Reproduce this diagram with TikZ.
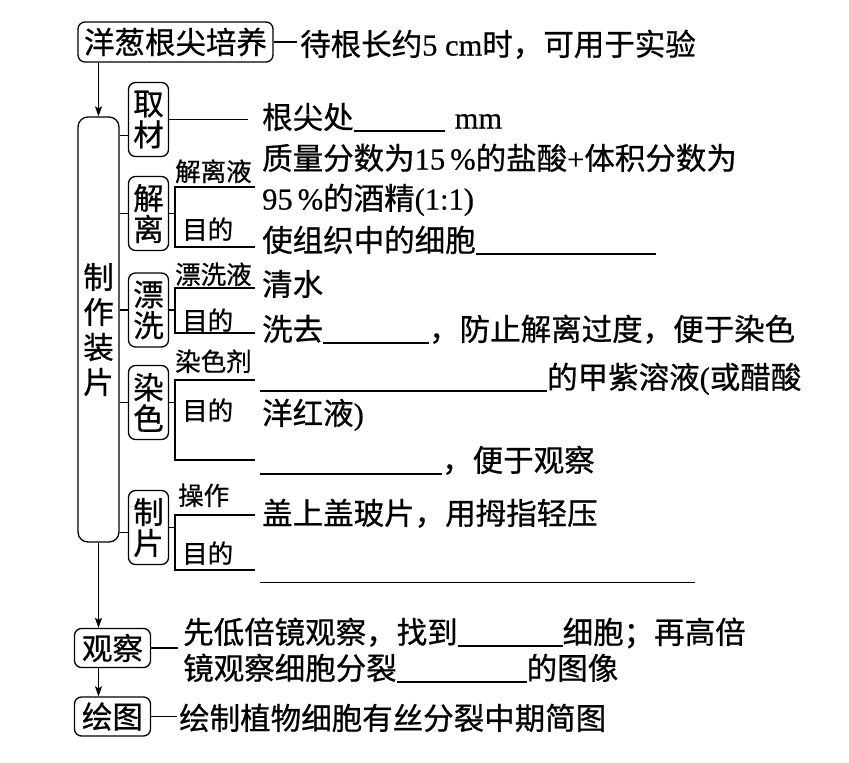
\documentclass[tikz,border=0pt]{standalone}
\usepackage{fontspec}
\setmainfont{Liberation Serif}[FakeBold=0.5]
\newfontfamily\cjk{Noto Sans CJK SC}[FakeBold=0.7]
\usetikzlibrary{arrows.meta, positioning, calc}
\newcommand{\lat}[1]{{\rmfamily #1}}
\newcommand{\blank}[1]{\rule[-3pt]{#1}{1.1pt}}

\begin{document}
\begin{tikzpicture}[x=1pt, y=-1pt,
  box/.style={draw, line width=1.3pt, rounded corners=7pt, inner sep=2pt, align=center, font=\cjk\fontsize{30.5}{31}\selectfont},
  hbox/.style={box, minimum width=76pt, minimum height=39pt},
  vbox/.style={box, minimum width=40pt, minimum height=74pt},
  txt/.style={anchor=base west, inner sep=0pt, font=\cjk\fontsize{30.5}{35}\selectfont},
  lab/.style={anchor=base west, inner sep=0pt, font=\cjk\fontsize{25.5}{30}\selectfont},
  ln/.style={line width=1.3pt},
  arr/.style={ln, -{Stealth[length=10pt, width=7pt, inset=2pt]}}
]
\useasboundingbox (0,0) rectangle (849,763);

\node[box, minimum width=195pt, minimum height=40pt] (culture) at (175.5,42) {洋葱根尖培养};
\node[txt] (culturenote) at (300,55.5) {待根长约\lat{5 cm}时，可用于实验};
\draw[ln, shorten >=3pt] (culture.east) -- (culture.east -| culturenote.west);

\node[box, minimum width=41pt, minimum height=425pt, rounded corners=10pt, font=\cjk\fontsize{30.5}{35}\selectfont] (make) at (98.5,329.5) {制\\作\\装\\片};
\draw[arr] (culture.south -| make.north) -- (make.north);

\node[vbox] (take) at (148.5,119.5) {取\\材};
\node[vbox] (dissoc) at (148.5,213.5) {解\\离};
\node[vbox] (rinse) at (148.5,310) {漂\\洗};
\node[vbox] (stain) at (148.5,402.5) {染\\色};
\node[vbox] (mount) at (148.5,527.5) {制\\片};

\draw[ln] ([yshift=-16pt]take.west) -- ([yshift=-16pt]take.west -| make.east);
\draw[ln] (dissoc.west) -- (dissoc.west -| make.east);
\draw[ln] (rinse.west) -- (rinse.west -| make.east);
\draw[ln] (stain.west) -- (stain.west -| make.east);
\draw[ln] ([yshift=-5pt]mount.west) -- ([yshift=-5pt]mount.west -| make.east);

% take material
\node[txt] (takenote) at (262,128.5) {根尖处\blank{91pt}\hspace{10pt}\lat{mm}};
\draw[ln, shorten >=14pt] (take.east) -- (take.east -| takenote.west);

% dissociation
\coordinate (dissocT) at (175,187);
\coordinate (dissocB) at (175,247);
\draw[ln] (dissoc.east) -- (dissoc.east -| dissocT);
\draw[ln] ([xshift=80pt]dissocT) -- (dissocT) -- (dissocB) -- ([xshift=80pt]dissocB);
\node[lab] (dissocliq) at (175,181) {解离液};
\node[lab] (dissocaim) at (182,239) {目的};
\node[txt] (dissocnote1) at (262,169.5) {质量分数为\lat{15\,\%}的盐酸\lat{+}体积分数为};
\node[txt] (dissocnote2) at (262,209.5) {\lat{95\,\%}的酒精\lat{(1:1)}};
\node[txt] (dissocnote3) at (262,251.5) {使组织中的细胞\blank{180pt}};

% rinsing
\coordinate (rinseT) at (175,288);
\coordinate (rinseB) at (175,333);
\draw[ln] (rinse.east) -- (rinse.east -| rinseT);
\draw[ln] ([xshift=80pt]rinseT) -- (rinseT) -- (rinseB) -- ([xshift=80pt]rinseB);
\node[lab] (rinseliq) at (175,284) {漂洗液};
\node[lab] (rinseaim) at (182,330) {目的};
\node[txt] (rinsenote1) at (262,295.5) {清水};
\node[txt] (rinsenote2) at (262,340.5) {洗去\blank{106pt}，防止解离过度，便于染色};

% staining
\coordinate (stainT) at (175,380);
\coordinate (stainB) at (175,460);
\draw[ln] (stain.east) -- (stain.east -| stainT);
\draw[ln] ([xshift=80pt]stainT) -- (stainT) -- (stainB) -- ([xshift=80pt]stainB);
\node[lab] (staindye) at (175,371) {染色剂};
\node[lab] (stainaim) at (182,420) {目的};
\node[txt] (stainnote1) at (260,388.5) {\blank{287pt}的甲紫溶液\lat{(}或醋酸};
\node[txt] (stainnote2) at (262,424.5) {洋红液\lat{)}};
\node[txt] (stainnote3) at (260,471.5) {\blank{182pt}，便于观察};

% mounting
\coordinate (mountT) at (175,515);
\coordinate (mountB) at (175,570);
\draw[ln] (mount.east) -- (mount.east -| mountT);
\draw[ln] ([xshift=80pt]mountT) -- (mountT) -- (mountB) -- ([xshift=80pt]mountB);
\node[lab] (mountop) at (178,505) {操作};
\node[lab] (mountaim) at (182,563) {目的};
\node[txt] (mountnote1) at (262,524.5) {盖上盖玻片，用拇指轻压};
\node[txt] (mountnote2) at (260,580) {\blank{435pt}};

% observe and sketch
\node[hbox] (observe) at (112.5,648) {观察};
\node[hbox] (sketch) at (112.5,716.5) {绘图};
\draw[arr] (make.south) -- (make.south |- observe.north);
\draw[arr] (make.south |- observe.south) -- (make.south |- sketch.north);

\node[txt] (observenote1) at (183,643.5) {先低倍镜观察，找到\blank{105pt}细胞；再高倍};
\node[txt] (observenote2) at (183,679.5) {镜观察细胞分裂\blank{130pt}的图像};
\draw[ln, shorten >=5pt] (observe.east) -- (observe.east -| observenote1.west);

\node[txt] (sketchnote) at (179,729.5) {绘制植物细胞有丝分裂中期简图};
\draw[ln, shorten >=2pt] (sketch.east) -- (sketch.east -| sketchnote.west);
\end{tikzpicture}
\end{document}
